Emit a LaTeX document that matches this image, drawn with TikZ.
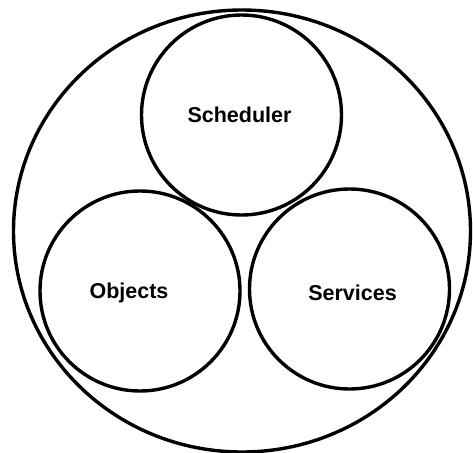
\documentclass[tikz,border=0pt]{standalone}
\usepackage{fontspec}
\setmainfont{Liberation Sans}
\usetikzlibrary{positioning,shapes.geometric}
\tikzset{part/.style={circle,draw=black,line width=3.4pt,minimum size=200pt,inner sep=0pt}}
\tikzset{partname/.style={font=\fontsize{21.5}{25}\selectfont\bfseries,inner sep=0pt}}

\begin{document}
\begin{tikzpicture}[x=1pt,y=-1pt]
\useasboundingbox (0,0) rectangle (473,452);
% \draw[help lines] (0,0) grid (473,452);
\node (system) [ellipse,draw=black,line width=3.4pt,minimum width=457pt,minimum height=442pt,inner sep=0pt] at (242,231) {};
\node (sched) [part] at (241.5,115) {};
\node (obj) [part] at (140,291) {};
\node (serv) [part] at (349.5,289) {};
%
\node (schedname) [partname] at ([xshift=-2pt]sched.center) {Scheduler};
\node (objname) [partname] at ([xshift=-11pt,yshift=-2pt]obj.center) {Objects};
\node (servname) [partname] at ([xshift=3pt,yshift=-4pt]serv.center) {Services};
%
\end{tikzpicture}
\end{document}
